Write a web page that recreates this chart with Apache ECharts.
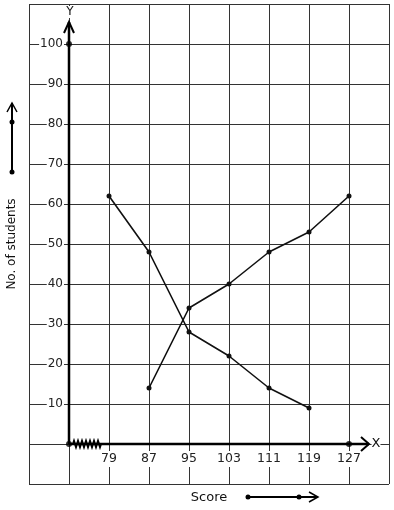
<!DOCTYPE html>
<html>
<head>
<meta charset="utf-8">
<script src="https://cdn.jsdelivr.net/npm/echarts@6/dist/echarts.min.js"></script>
<style>
html,body{margin:0;padding:0;background:#fff;}
#c{width:394px;height:510px;}
</style>
</head>
<body>
<div id="c"></div>
<script>
// Data
const categories = ['63','71','79','87','95','103','111','119','127','135'];
const shownXLabels = ['79','87','95','103','111','119','127'];
const seriesA = [null, null, 62, 48, 28, 22, 14, 9, null, null];
const seriesB = [null, null, null, 14, 34, 40, 48, 53, 62, null];
const axisPoints = [['71', 0], ['71', 100], ['127', 0]];
const yMin = -10, yMax = 110, yStep = 10;
const shownYLabels = [10, 20, 30, 40, 50, 60, 70, 80, 90, 100];

const FONT = 'DejaVu Sans';
const chart = echarts.init(document.getElementById('c'), null, {renderer: 'canvas'});

const option = {
  animation: false,
  backgroundColor: '#fff',
  grid: {left: 29, right: 5, top: 4, bottom: 26, containLabel: false, outerBoundsMode: 'none'},
  xAxis: {
    type: 'category',
    data: categories,
    boundaryGap: false,
    name: 'Score',
    nameLocation: 'middle',
    nameGap: 7,
    nameTextStyle: {fontFamily: FONT, fontSize: 13, color: '#111'},
    axisLine: {show: false},
    axisTick: {show: false},
    axisLabel: {
      interval: 0,
      margin: -33,
      fontFamily: FONT, fontSize: 12.5, color: '#222',
      backgroundColor: '#fff', padding: [1, 0, 2, 0],
      formatter: v => shownXLabels.indexOf(v) >= 0 ? v : ''
    },
    splitLine: {show: true, interval: 0, lineStyle: {color: '#333', width: 1}}
  },
  yAxis: {
    type: 'value',
    min: yMin, max: yMax, interval: yStep,
    name: 'No. of students',
    nameLocation: 'middle',
    nameGap: 11,
    nameRotate: 90,
    nameTextStyle: {fontFamily: FONT, fontSize: 12, color: '#111'},
    axisLine: {show: false},
    axisTick: {show: false},
    axisLabel: {
      inside: true, margin: 35, align: 'right',
      fontFamily: FONT, fontSize: 12, color: '#222',
      backgroundColor: '#fff', padding: [0, 1, 0, 1],
      formatter: v => shownYLabels.indexOf(v) >= 0 ? String(v) : ''
    },
    splitLine: {show: true, lineStyle: {color: '#333', width: 1}}
  },
  series: [
    {
      type: 'line', data: seriesA, symbol: 'circle', symbolSize: 5,
      lineStyle: {color: '#111', width: 1.6}, itemStyle: {color: '#111'}, z: 5
    },
    {
      type: 'line', data: seriesB, symbol: 'circle', symbolSize: 5,
      lineStyle: {color: '#111', width: 1.6}, itemStyle: {color: '#111'}, z: 5
    },
    {
      type: 'scatter', data: axisPoints, symbol: 'circle', symbolSize: 6,
      itemStyle: {color: '#000'}, z: 10
    }
  ]
};
chart.setOption(option);

// Decorations (axis arrows, zigzag, annotation arrows) positioned from the axes
const o = chart.convertToPixel({xAxisIndex: 0, yAxisIndex: 0}, ['71', 0]);
const ox = o[0], oy = o[1];
const yTop = oy - 422;
const xEnd = ox + 300;
const zig = [[ox, oy]];
for (let i = 0; i < 7; i++) {
  const x0 = ox + 4 + i * 4;
  zig.push([x0, oy]);
  zig.push([x0 + 1, oy - 3]);
  zig.push([x0 + 3, oy + 3]);
}
zig.push([ox + 32, oy]);
const blk = {stroke: '#000', lineWidth: 2.5, fill: null};
const thin = {stroke: '#000', lineWidth: 2, fill: null};
chart.setOption({
  graphic: [
    {type: 'polyline', shape: {points: [[ox, oy], [ox, yTop]]}, style: blk, z: 20},
    {type: 'polyline', shape: {points: [[ox - 5, yTop + 11], [ox, yTop], [ox + 5, yTop + 11]]}, style: thin, z: 20},
    {type: 'polyline', shape: {points: [[ox, oy], [xEnd, oy]]}, style: blk, z: 20},
    {type: 'polyline', shape: {points: [[xEnd - 8, oy - 7], [xEnd, oy], [xEnd - 8, oy + 7]]}, style: thin, z: 20},
    {type: 'polyline', shape: {points: zig}, style: {stroke: '#000', lineWidth: 2, fill: null}, z: 21},
    {type: 'text', x: ox + 1, y: 12, style: {text: 'Y', font: '12px "DejaVu Sans"', fill: '#111', align: 'center', verticalAlign: 'middle', backgroundColor: '#fff'}, z: 22},
    {type: 'text', x: xEnd + 7, y: oy, style: {text: 'X', font: '13px "DejaVu Sans"', fill: '#111', align: 'center', verticalAlign: 'middle', backgroundColor: '#fff'}, z: 22},
    // left annotation arrow
    {type: 'polyline', shape: {points: [[12, 172], [12, 103]]}, style: thin, z: 20},
    {type: 'polyline', shape: {points: [[7, 112], [12, 103], [17, 112]]}, style: {stroke: '#000', lineWidth: 1.5, fill: null}, z: 20},
    {type: 'circle', shape: {cx: 12, cy: 122, r: 2.5}, style: {fill: '#000'}, z: 21},
    {type: 'circle', shape: {cx: 12, cy: 172, r: 2.5}, style: {fill: '#000'}, z: 21},
    // score annotation arrow
    {type: 'polyline', shape: {points: [[248, 497], [318, 497]]}, style: thin, z: 20},
    {type: 'polyline', shape: {points: [[309, 492], [318, 497], [309, 502]]}, style: {stroke: '#000', lineWidth: 1.5, fill: null}, z: 20},
    {type: 'circle', shape: {cx: 248, cy: 497, r: 2.5}, style: {fill: '#000'}, z: 21},
    {type: 'circle', shape: {cx: 299, cy: 497, r: 2.5}, style: {fill: '#000'}, z: 21}
  ]
});
</script>
</body>
</html>
